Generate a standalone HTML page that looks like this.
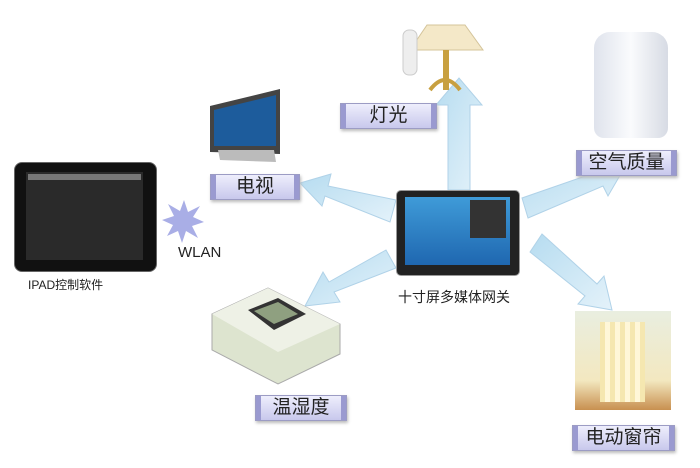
<!DOCTYPE html>
<html><head><meta charset="utf-8"><style>
body{margin:0;width:700px;height:468px;background:#fff;position:relative;overflow:hidden;font-family:"Liberation Sans","Noto Sans CJK SC",sans-serif}
.a{position:absolute}
.lb{position:absolute;background:linear-gradient(#eeeefc,#c8c8ec);border:1px solid #9c9cc4;box-shadow:1px 2px 3px #bbb;text-align:center;font-size:19px;color:#222;line-height:24px}
.lb:before{content:"";position:absolute;left:0;top:0;bottom:0;width:5px;background:#9a9ad0}
.lb:after{content:"";position:absolute;right:0;top:0;bottom:0;width:5px;background:#9a9ad0}
</style></head><body>
<svg class="a" style="left:0;top:0" width="700" height="468">
<defs><linearGradient id="g" x1="0" y1="0" x2="1" y2="1"><stop offset="0" stop-color="#b6dcf0"/><stop offset="1" stop-color="#e4f2fa"/></linearGradient></defs>
<g fill="url(#g)" stroke="#b0d2e8" stroke-width="1">
<polygon points="448,190 448,105 436,105 459,78 482,105 470,105 470,190"/>
<polygon points="396,200 328,186 331,174 300,183 322,206 325,196 390,222"/>
<polygon points="386,250 329,282 323,272 305,306 340,302 334,292 396,268"/>
<polygon points="528,218 603,186 608,196 626,165 592,162 597,172 522,198"/>
<polygon points="530,252 585,296 578,304 612,310 604,276 597,284 542,234"/>
</g>
<polygon points="184,200 188,212 200,206 193,217 204,222 192,226 198,238 186,231 182,243 178,231 167,236 173,225 162,220 174,216 168,204 180,211" fill="#a9aee6"/>
</svg>
<div class="a" style="left:14px;top:162px;width:141px;height:108px;background:#111;border-radius:8px;border:1px solid #666"></div>
<div class="a" style="left:26px;top:172px;width:117px;height:88px;background:#2a2a2a"></div>
<div class="a" style="left:28px;top:174px;width:113px;height:6px;background:#777"></div>
<div class="a" style="left:28px;top:276px;font-size:12px;color:#222">IPAD控制软件</div>
<div class="a" style="left:178px;top:244px;font-size:15px;color:#222">WLAN</div>
<svg class="a" style="left:208px;top:86px" width="75" height="80"><polygon points="2,20 72,3 72,68 2,66" fill="#444"/><polygon points="6,24 68,9 68,60 6,60" fill="#1d5c9c"/><polygon points="10,64 66,64 68,76 12,74" fill="#bbb"/></svg>
<div class="lb" style="left:210px;top:174px;width:88px">电视</div>
<svg class="a" style="left:395px;top:5px" width="100" height="92"><polygon points="32,20 70,20 88,45 15,45" fill="#f4e8c8" stroke="#d4c49a"/><rect x="48" y="45" width="6" height="40" fill="#c8a040"/><path d="M35 85 q15 -20 30 0" stroke="#c8a040" fill="none" stroke-width="4"/><rect x="8" y="25" width="14" height="45" rx="6" fill="#eee" stroke="#ccc"/></svg>
<div class="lb" style="left:340px;top:103px;width:95px">灯光</div>
<div class="a" style="left:594px;top:32px;width:74px;height:106px;background:linear-gradient(90deg,#dfe3ec,#fafbfd,#d7dbe4);border-radius:16px 16px 10px 10px"></div>
<div class="lb" style="left:576px;top:150px;width:99px">空气质量</div>
<div class="a" style="left:396px;top:190px;width:122px;height:84px;background:#222;border-radius:5px;border:1px solid #999"></div>
<div class="a" style="left:405px;top:197px;width:105px;height:68px;background:linear-gradient(#3f9bd8,#1f67b0)"></div>
<div class="a" style="left:470px;top:200px;width:36px;height:38px;background:#333"></div>
<div class="a" style="left:398px;top:287px;font-size:14px;color:#222">十寸屏多媒体网关</div>
<svg class="a" style="left:208px;top:284px" width="135" height="104"><polygon points="4,30 60,4 132,40 132,70 70,100 4,66" fill="#dde4cf" stroke="#aaa"/><polygon points="4,30 60,4 132,40 70,68" fill="#eef1e6"/><polygon points="40,26 70,14 98,30 66,46" fill="#333"/><polygon points="46,27 70,18 90,30 66,40" fill="#8fa080"/></svg>
<div class="lb" style="left:255px;top:395px;width:90px">温湿度</div>
<div class="a" style="left:575px;top:311px;width:96px;height:99px;background:linear-gradient(#e9eee0,#f3e8c0 70%,#c89050)"></div>
<div class="a" style="left:600px;top:322px;width:45px;height:80px;background:repeating-linear-gradient(90deg,#f5e7b0 0 5px,#fff7d8 5px 10px)"></div>
<div class="lb" style="left:572px;top:425px;width:101px">电动窗帘</div>
</body></html>
